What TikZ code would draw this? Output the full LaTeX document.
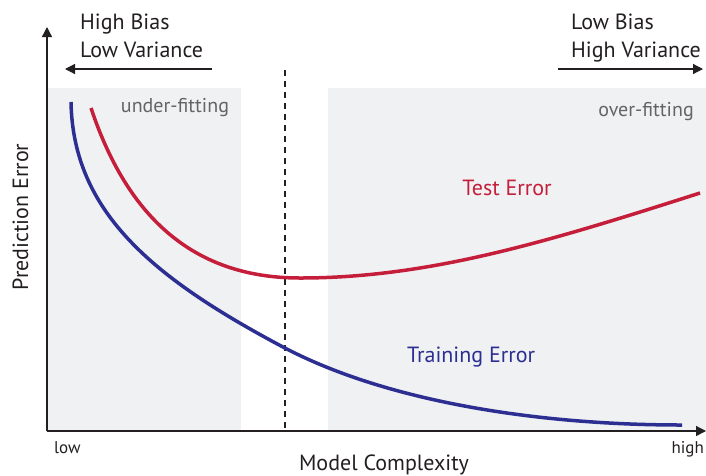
\documentclass[tikz,border=0pt]{standalone}
\usepackage{fontspec}
\setmainfont{PT Sans}
\usetikzlibrary{arrows.meta}
\definecolor{testred}{RGB}{196,30,58}
\definecolor{trainblue}{RGB}{44,47,145}
\definecolor{regiongray}{RGB}{240,241,243}
\definecolor{labelgray}{RGB}{100,100,100}
\definecolor{axisgray}{RGB}{35,31,32}

\begin{document}
\begin{tikzpicture}[x=1pt, y=-1pt, >={Triangle[length=10pt,width=10pt]},
  every node/.style={inner sep=0pt, text=axisgray},
  bigtext/.style={font=\fontsize{22}{26}\selectfont},
  regiontext/.style={font=\fontsize{20}{24}\selectfont, text=labelgray},
  ticktext/.style={font=\fontsize{17}{20}\selectfont},
  errcurve/.style={line width=3.5pt}]
\useasboundingbox (0,0) rectangle (706,475);
% shaded regions
\fill[regiongray] (47,88) rectangle (241,431);
\fill[regiongray] (328,88) rectangle (706,431);
% axes
\coordinate (origin) at (47,431);
\coordinate (ytop) at (47,27);
\coordinate (xend) at (706,431);
\draw[->, axisgray, line width=1.3pt] (origin) -- (ytop);
\draw[->, axisgray, line width=1.3pt] (origin) -- (xend);
% optimum
\coordinate (bestT) at (285,70);
\coordinate (bestB) at (285,431);
\draw[axisgray, line width=1.2pt, dash pattern=on 6pt off 5pt] (bestT) -- (bestB);
% bias / variance
\node[bigtext, anchor=base west] (hbias) at (80,29) {High Bias};
\node[bigtext, anchor=base west] (lvar) at (80,57) {Low Variance};
\node[bigtext, anchor=base west] (lbias) at (571,29) {Low Bias};
\node[bigtext, anchor=base west] (hvar) at (571,57) {High Variance};
\coordinate (la1) at (212,69);
\coordinate (la2) at (65,69);
\coordinate (ra1) at (558,69);
\coordinate (ra2) at (703,69);
\draw[->, axisgray, line width=1.2pt] (la1) -- (la2);
\draw[->, axisgray, line width=1.2pt] (ra1) -- (ra2);
% regions
\node[regiontext, anchor=base] (under) at (175,112) {under-fitting};
\node[regiontext, anchor=base] (over) at (646,116) {over-fitting};
% curves
\draw[errcurve, trainblue] (71,102) .. controls (73,212) and (153,278) .. (283,347)
  .. controls (383,400) and (532,425) .. (682,425);
\draw[errcurve, testred] (91,108) .. controls (126,213) and (190,278) .. (300,278)
  .. controls (430,278) and (550,241) .. (700,193);
\node[bigtext, text=testred, anchor=base] (test) at (507,195) {Test Error};
\node[bigtext, text=trainblue, anchor=base west] (train) at (407,362) {Training Error};
% axis labels
\node[ticktext, anchor=base west] (low) at (54,453) {low};
\node[ticktext, anchor=base east] (high) at (704,453) {high};
\node[bigtext, anchor=base] (xlabel) at (384,470) {Model Complexity};
\node[bigtext, rotate=90, anchor=base] (ylabel) at (28,217) {Prediction Error};
\end{tikzpicture}
\end{document}
